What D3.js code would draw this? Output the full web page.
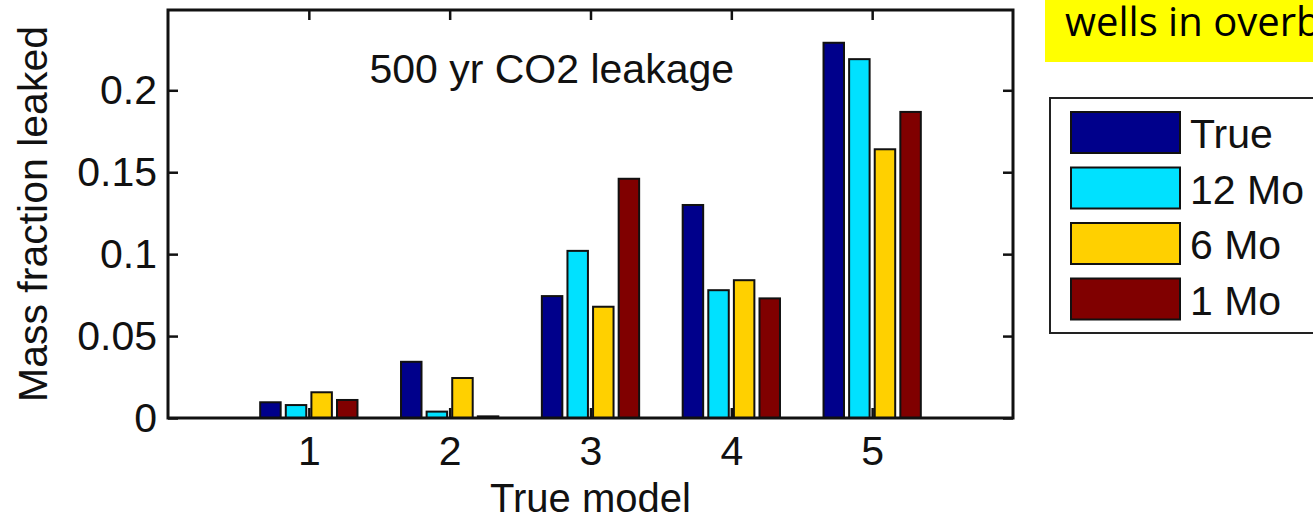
<!DOCTYPE html>
<html>
<head>
<meta charset="utf-8">
<script src="https://cdn.jsdelivr.net/npm/d3@7"></script>
<style>
  body { margin: 0; background: #fff; }
  svg { display: block; }
  text { font-family: "Liberation Sans", Arial, sans-serif; fill: #111; }
</style>
</head>
<body>
<div id="chart"></div>
<script>
// data
let models = [1, 2, 3, 4, 5];
let series = ["True", "12 Mo", "6 Mo", "1 Mo"];
let colors = ["#00008B", "#00E1FF", "#FFD000", "#800000"];
let valTrue = [0.0096, 0.0343, 0.0744, 0.130, 0.229];
let val12 = [0.0079, 0.0039, 0.102, 0.078, 0.219];
let val6 = [0.0157, 0.0244, 0.0679, 0.0841, 0.164];
let val1 = [0.011, 0.001, 0.146, 0.073, 0.1868];
let yTicks = [0, 0.05, 0.1, 0.15, 0.2];
let yTickLabels = ["0", "0.05", "0.1", "0.15", "0.2"];
let title = "500 yr CO2 leakage";
let note = "wells in overburden";

let allVals = [valTrue, val12, val6, val1];

let width = 1313, height = 523;
let mLeft = 168, mRight = 1013, mTop = 10, mBottom = 418;

let svg = d3.select("#chart").append("svg")
    .attr("width", width)
    .attr("height", height);

let x = d3.scaleLinear().domain([0, 6]).range([mLeft, mRight]);
let y = d3.scaleLinear().domain([0, 0.249]).range([mBottom, mTop]);
// offsets inside each group, in x units (matlab grouped bar layout)
let inner = d3.scaleBand().domain(series).range([-0.3636, 0.3636])
    .paddingInner(0.2).paddingOuter(0.1);

// ticks first so bars cover them like in the original
let gx = svg.append("g")
    .attr("transform", "translate(0," + mBottom + ")")
    .call(d3.axisBottom(x).tickValues(models).tickFormat(d3.format("d"))
        .tickSize(-10).tickSizeOuter(0).tickPadding(18));
gx.select(".domain").remove();
gx.selectAll("text").style("font-size", "41px").attr("font-family", null);

let gy = svg.append("g")
    .attr("transform", "translate(" + mLeft + ",0)")
    .call(d3.axisLeft(y).tickValues(yTicks).tickFormat((d, i) => yTickLabels[i])
        .tickSize(-10).tickSizeOuter(0).tickPadding(11));
gy.select(".domain").remove();
gy.selectAll("text").style("font-size", "41px").attr("font-family", null);

let gt = svg.append("g")
    .attr("transform", "translate(0," + mTop + ")")
    .call(d3.axisTop(x).tickValues(models).tickSize(-10).tickSizeOuter(0).tickFormat(""));
gt.select(".domain").remove();

let gr = svg.append("g")
    .attr("transform", "translate(" + mRight + ",0)")
    .call(d3.axisRight(y).tickValues(yTicks).tickSize(-10).tickSizeOuter(0).tickFormat(""));
gr.select(".domain").remove();

svg.selectAll(".tick line").attr("stroke", "#111").attr("stroke-width", 2.5);

// bars
let barW = x(inner.bandwidth()) - x(0);
series.forEach((s, si) => {
    svg.append("g").selectAll("rect")
        .data(allVals[si])
        .enter()
        .append("rect")
        .attr("x", (d, i) => x(models[i] + inner(s)))
        .attr("y", d => y(d))
        .attr("width", barW)
        .attr("height", d => y(0) - y(d))
        .attr("fill", colors[si])
        .attr("stroke", "#111")
        .attr("stroke-width", 2);
});

// axes box
svg.append("rect")
    .attr("x", mLeft).attr("y", mTop)
    .attr("width", mRight - mLeft).attr("height", mBottom - mTop)
    .attr("fill", "none")
    .attr("stroke", "#111")
    .attr("stroke-width", 3);

svg.append("text")
    .text(title)
    .attr("x", x(1.43))
    .attr("y", y(0.2044))
    .style("font-size", "41px");

svg.append("text")
    .text("True model")
    .attr("x", (mLeft + mRight) / 2)
    .attr("y", 512)
    .attr("text-anchor", "middle")
    .style("font-size", "40px");

svg.append("text")
    .text("Mass fraction leaked")
    .attr("transform", "translate(47," + ((mTop + mBottom) / 2) + ") rotate(-90)")
    .attr("text-anchor", "middle")
    .style("font-size", "41px");

// legend
svg.append("rect")
    .attr("x", 1050).attr("y", 98)
    .attr("width", 290).attr("height", 235)
    .attr("fill", "#fff")
    .attr("stroke", "#222")
    .attr("stroke-width", 2);

let lg = svg.selectAll(".leg").data(series).enter()
    .append("g")
    .attr("class", "leg")
    .attr("transform", (d, i) => "translate(1071," + (112 + i * 55.5) + ")");
lg.append("rect")
    .attr("width", 109).attr("height", 41)
    .attr("fill", (d, i) => colors[i])
    .attr("stroke", "#111")
    .attr("stroke-width", 2);
lg.append("text")
    .text(d => d)
    .attr("x", 119)
    .attr("y", 36)
    .style("font-size", "41px");

// yellow note in the corner (runs off the page like in the original)
svg.append("rect")
    .attr("x", 1045).attr("y", 0)
    .attr("width", 300).attr("height", 62)
    .attr("fill", "#FFFF00");
svg.append("text")
    .text(note)
    .attr("x", 1065)
    .attr("y", 36)
    .style("font-family", "'Open Sans', Lato, sans-serif")
    .style("font-size", "40px")
    .style("fill", "#000");
</script>
</body>
</html>
